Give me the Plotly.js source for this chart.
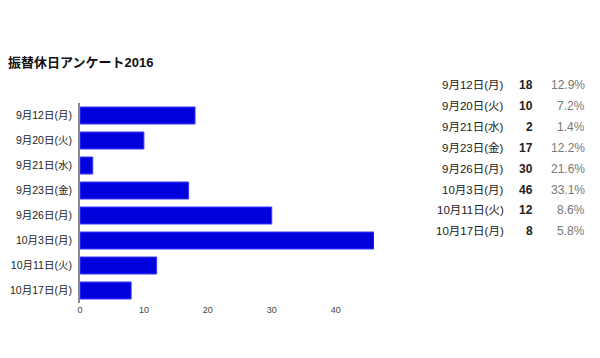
<!DOCTYPE html>
<html>
<head>
<meta charset="utf-8">
<script src="https://cdn.plot.ly/plotly-3.0.1.min.js"></script>
<style>html,body{margin:0;padding:0;background:#fff;}#chart{width:600px;height:358px;}</style>
</head>
<body>
<div id="chart"></div>
<script>
const chartTitle = '振替休日アンケート2016';
const categories = ['9月12日(月)', '9月20日(火)', '9月21日(水)', '9月23日(金)', '9月26日(月)', '10月3日(月)', '10月11日(火)', '10月17日(月)'];
const votes = [18, 10, 2, 17, 30, 46, 12, 8];
const percents = ['12.9%', '7.2%', '1.4%', '12.2%', '21.6%', '33.1%', '8.6%', '5.8%'];
const xTicks = [0, 10, 20, 30, 40];

const FONT = 'Liberation Sans, Arial, "Noto Sans CJK JP", sans-serif';
const W = 600, H = 358;
const L = 80, R = 226, T = 103, B = 55;
const plotW = W - L - R;

function px(x) { return (x - L) / plotW; }

const annotations = [];
const rowY0 = 85, rowStep = 20.9;
categories.forEach((c, i) => {
  const yy = 1 - (rowY0 + i * rowStep - T) / (H - T - B);
  annotations.push({xref: 'paper', yref: 'paper', x: px(506), y: yy, xanchor: 'right', yanchor: 'middle',
    text: c, showarrow: false, font: {family: FONT, size: 11.5, color: '#222'}});
  annotations.push({xref: 'paper', yref: 'paper', x: px(535), y: yy, xanchor: 'right', yanchor: 'middle',
    text: '<b>' + votes[i] + '</b>', showarrow: false, font: {family: FONT, size: 12, color: '#222'}});
  annotations.push({xref: 'paper', yref: 'paper', x: px(587), y: yy, xanchor: 'right', yanchor: 'middle',
    text: percents[i], showarrow: false, font: {family: FONT, size: 12, color: '#777'}});
});

const data = [{
  type: 'bar',
  orientation: 'h',
  x: votes,
  y: categories,
  marker: {color: '#0000dc', line: {color: '#3a3aff', width: 1}},
  width: 0.68,
  hoverinfo: 'none'
}];

const layout = {
  width: W, height: H,
  margin: {l: L, r: R, t: T, b: B},
  paper_bgcolor: '#fff', plot_bgcolor: '#fff',
  showlegend: false,
  title: {text: '<b>' + chartTitle + '</b>', x: 8 / W, xanchor: 'left', xref: 'container', yref: 'container', y: 1 - 62 / H, yanchor: 'middle',
    font: {family: FONT, size: 13, color: '#111'}},
  xaxis: {range: [0, 46], tickvals: xTicks, ticktext: xTicks.map(String), showgrid: false, zeroline: false,
    showline: false, ticks: '', tickfont: {family: FONT, size: 9, color: '#444'}, fixedrange: true},
  yaxis: {autorange: 'reversed', showgrid: false, zeroline: false, showline: true, linecolor: '#888', linewidth: 2,
    ticks: '', ticklen: 0, ticklabelstandoff: 4, tickfont: {family: FONT, size: 10.5, color: '#222'}, fixedrange: true},
  annotations: annotations
};
layout.xaxis.title = {text: ''};
layout.yaxis.title = {text: ''};

Plotly.newPlot('chart', data, layout, {displayModeBar: false, staticPlot: true});
</script>
</body>
</html>
